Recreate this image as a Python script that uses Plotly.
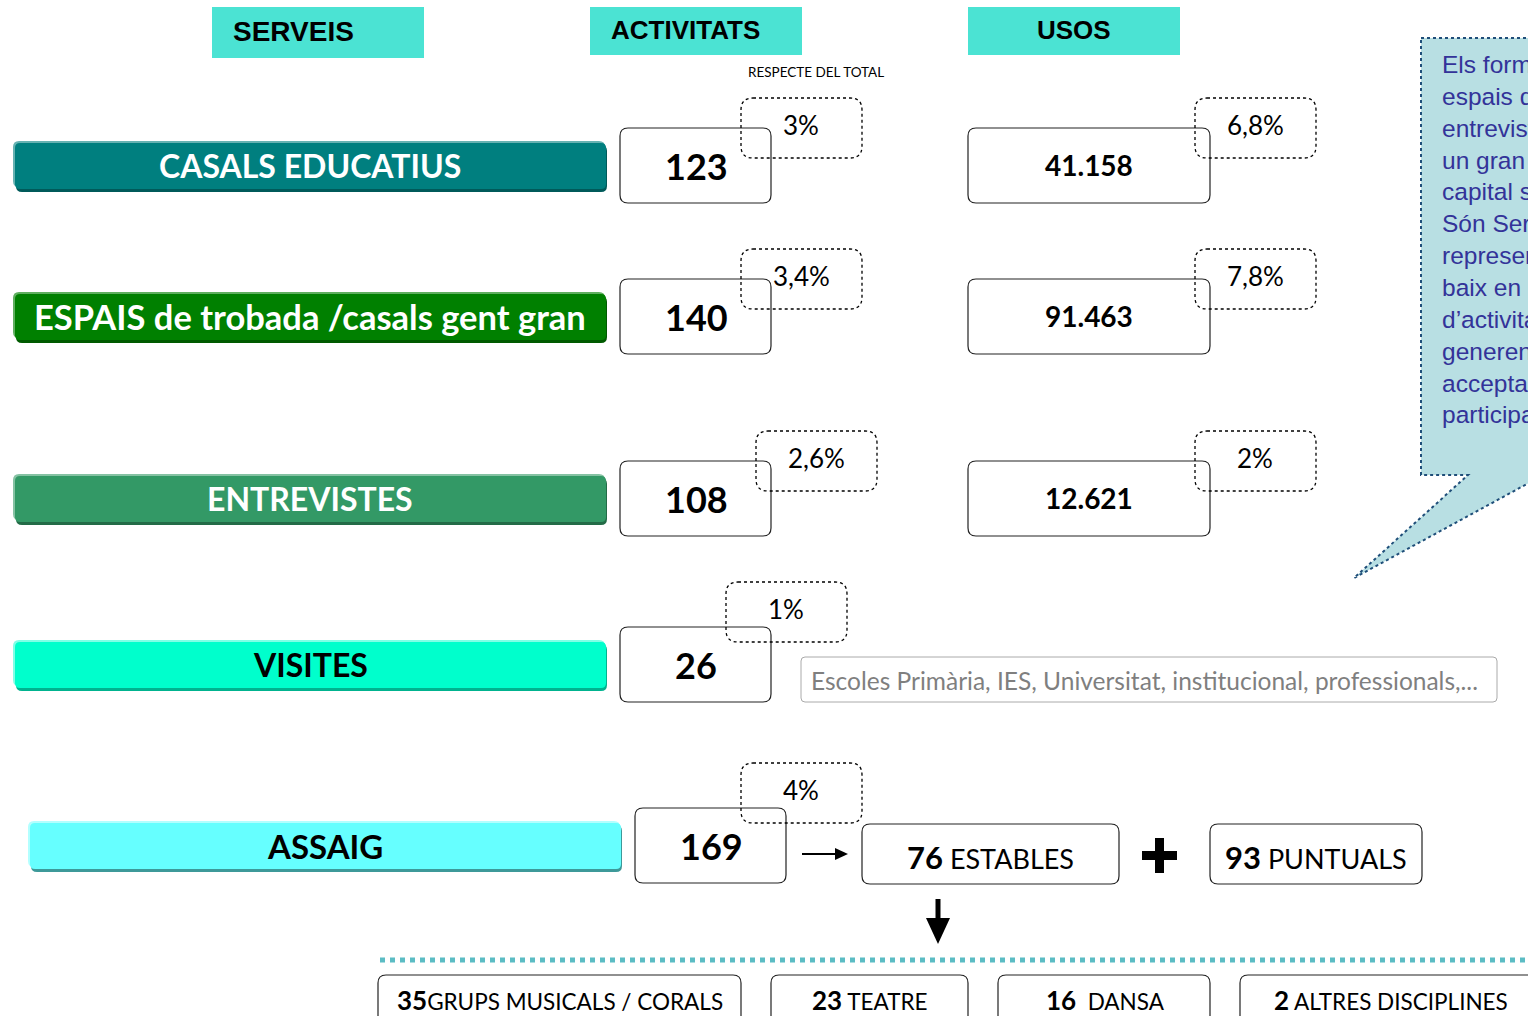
import plotly.graph_objects as go

# ---- data ----
headers = ["SERVEIS", "ACTIVITATS", "USOS"]
serveis = ["CASALS EDUCATIUS", "ESPAIS de trobada /casals gent gran", "ENTREVISTES", "VISITES", "ASSAIG"]
activitats = [123, 140, 108, 26, 169]
pct_activitats = ["3%", "3,4%", "2,6%", "1%", "4%"]
usos = ["41.158", "91.463", "12.621"]
pct_usos = ["6,8%", "7,8%", "2%"]
visites_nota = "Escoles Primària, IES, Universitat, institucional, professionals,..."
assaig_valors = [76, 93]
assaig_tipus = ["ESTABLES", "PUNTUALS"]
disciplines_valors = [35, 23, 16, 2]
disciplines = ["GRUPS MUSICALS / CORALS", "TEATRE", " DANSA", "ALTRES DISCIPLINES"]
callout_lines = ["Els formats dels", "espais de trobada", "entrevistes i", "un gran impacte", "capital social",
                 "Són Serveis que", "representen", "baix en nombre", "d’activitats", "generen una",
                 "acceptació i", "participació."]

# ---- layout / style ----
W, H = 1528, 1016
CAL = "Lato"
ARI = "Liberation Sans"
bar_x = [(13, 607)] * 4 + [(28, 622)]
bar_y = [141, 292, 474, 640, 821]
bar_font = [32, 34.5, 32, 32, 33]
bar_cols = [("#007F7F", "#66B2B2", "#005A5A", "white"),
            ("#008000", "#5FAF5F", "#005A00", "white"),
            ("#339966", "#85C2A3", "#236B47", "white"),
            ("#00FFCC", "#80FFE6", "#00B38F", "black"),
            ("#66FFFF", "#B3FFFF", "#3D9999", "black")]
act_x0 = [620, 620, 620, 620, 635]
act_y0 = [128, 279, 461, 627, 808]
pact_x0 = [741, 741, 756, 726, 741]
pact_y0 = [98, 249, 431, 582, 763]
uso_y0 = [128, 279, 461]
disc_x = [(378, 741), (771, 968), (998, 1210), (1240, 1560)]
disc_tx = [560, 870, 1105, 1391]


def rrect(x0, y0, x1, y1, r):
    return (f"M{x0+r},{y0} L{x1-r},{y0} Q{x1},{y0} {x1},{y0+r} L{x1},{y1-r} Q{x1},{y1} {x1-r},{y1} "
            f"L{x0+r},{y1} Q{x0},{y1} {x0},{y1-r} L{x0},{y0+r} Q{x0},{y0} {x0+r},{y0} Z")


fig = go.Figure()
shapes, anns = [], []


def box(x0, y0, x1, y1, r=8, line="#222", lw=1.2, fill="white", dash=None):
    ln = dict(color=line, width=lw)
    if dash:
        ln["dash"] = dash
    shapes.append(dict(type="path", path=rrect(x0, y0, x1, y1, r), xref="x", yref="y",
                       line=ln, fillcolor=fill, layer="above"))


def text(x, y, t, size, color="black", family=CAL, xanchor="center"):
    anns.append(dict(x=x, y=y, xref="x", yref="y", text=t, showarrow=False, xanchor=xanchor,
                     yanchor="middle", font=dict(size=size, color=color, family=family)))


def big(v, size):
    return f"<span style='font-size:{size}px'><b>{v}</b></span>"


# headers
for (x0, x1, y0, y1), h, tx, xa, fs in zip([(212, 424, 7, 58), (590, 802, 7, 55), (968, 1180, 7, 55)],
                                           headers, [231, 609, 1074], ["left", "left", "center"],
                                           [28, 26, 26]):
    shapes.append(dict(type="rect", x0=x0, x1=x1, y0=y0, y1=y1, xref="x", yref="y",
                       fillcolor="#4BE3D3", line=dict(width=0)))
    text(tx, (y0 + y1) / 2 - 1, f"<b>{h}</b>", fs, family=ARI, xanchor=xa)
text(816, 72, "RESPECTE DEL TOTAL", 13.5)

# service bars
for (x0, x1), y0, (main, light, dark, tc), lab, fs in zip(bar_x, bar_y, bar_cols, serveis, bar_font):
    y1 = y0 + 49
    box(x0 + 3, y0 + 4, x1, y1 + 2, r=6, line=dark, lw=0, fill=dark)
    box(x0, y0, x1 - 2, y1 - 3, r=6, line=light, lw=0, fill=light)
    box(x0 + 2, y0 + 2, x1 - 1, y1 - 1, r=5, line=main, lw=0, fill=main)
    text((x0 + x1) / 2, (y0 + y1) / 2, f"<b>{lab}</b>", fs, color=tc)

# activity numbers
for x0, y0, v in zip(act_x0, act_y0, activitats):
    box(x0, y0, x0 + 151, y0 + 75)
    text(x0 + 76, y0 + 38, f"<b>{v}</b>", 36)

# usos numbers
for y0, v in zip(uso_y0, usos):
    box(968, y0, 1210, y0 + 75)
    text(1089, y0 + 37, f"<b>{v}</b>", 28)

# percentage bubbles (dotted, transparent)
for x0, y0, p in zip(pact_x0, pact_y0, pct_activitats):
    box(x0, y0, x0 + 121, y0 + 60, r=12, line="black", lw=1.3, fill="rgba(0,0,0,0)", dash="dot")
    text(x0 + 60, y0 + 27, p, 26)
for y0, p in zip(uso_y0, pct_usos):
    box(1195, y0 - 30, 1316, y0 + 30, r=12, line="black", lw=1.3, fill="rgba(0,0,0,0)", dash="dot")
    text(1255, y0 - 3, p, 26)

# visites note
box(801, 657, 1497, 702, r=4, line="#AAAAAA", lw=1, fill="white")
text(809, 680, visites_nota, 24.5, color="#7F7F7F", xanchor="left")

# callout
shapes.append(dict(type="path", xref="x", yref="y",
                   path="M1421,38 L1560,38 L1560,466 L1354,578 L1468,475 L1421,475 Z",
                   fillcolor="#B8DFE3", line=dict(color="#1F4E79", width=2, dash="dot")))
anns.append(dict(x=1440, y=49, xref="x", yref="y", text="<br>".join(callout_lines), showarrow=False,
                 xanchor="left", yanchor="top", align="left",
                 font=dict(size=24.5, color="#333399", family=ARI)))

# assaig breakdown
for (x0, x1), v, t in zip([(862, 1119), (1210, 1422)], assaig_valors, assaig_tipus):
    box(x0, 824, x1, 884)
    text((x0 + x1) / 2, 857, f"{big(v, 31)} {t}", 27)
# right arrow
shapes.append(dict(type="line", x0=802, x1=838, y0=854, y1=854, xref="x", yref="y",
                   line=dict(color="black", width=2)))
shapes.append(dict(type="path", path="M835,848 L848,854 L835,860 Z", xref="x", yref="y",
                   fillcolor="black", line=dict(width=0)))
# plus sign
shapes.append(dict(type="rect", x0=1155, x1=1164, y0=838, y1=873, xref="x", yref="y",
                   fillcolor="black", line=dict(width=0)))
shapes.append(dict(type="rect", x0=1142, x1=1177, y0=851, y1=860, xref="x", yref="y",
                   fillcolor="black", line=dict(width=0)))
# down arrow
shapes.append(dict(type="rect", x0=935.5, x1=940.5, y0=899, y1=920, xref="x", yref="y",
                   fillcolor="black", line=dict(width=0)))
shapes.append(dict(type="path", path="M926,918 L950,918 L938,944 Z", xref="x", yref="y",
                   fillcolor="black", line=dict(width=0)))
# dotted teal separator
shapes.append(dict(type="line", x0=380, x1=1528, y0=960, y1=960, xref="x", yref="y",
                   line=dict(color="#5BBCC4", width=5, dash="5px,5px")))

# disciplines
for (x0, x1), tx, v, t in zip(disc_x, disc_tx, disciplines_valors, disciplines):
    box(x0, 975, x1, 1040)
    sep = "" if v == 35 else " "
    text(tx, 1000, f"{big(v, 26)}{sep}{t}", 22.5)

fig.update_layout(shapes=shapes, annotations=anns, width=W, height=H,
                  margin=dict(l=0, r=0, t=0, b=0), paper_bgcolor="white", plot_bgcolor="white",
                  showlegend=False)
fig.update_xaxes(range=[0, W], visible=False)
fig.update_yaxes(range=[H, 0], visible=False)
fig.write_html("out.html", config={"displayModeBar": False},
               post_script="document.body.style.margin='0';document.body.style.overflow='hidden';")
